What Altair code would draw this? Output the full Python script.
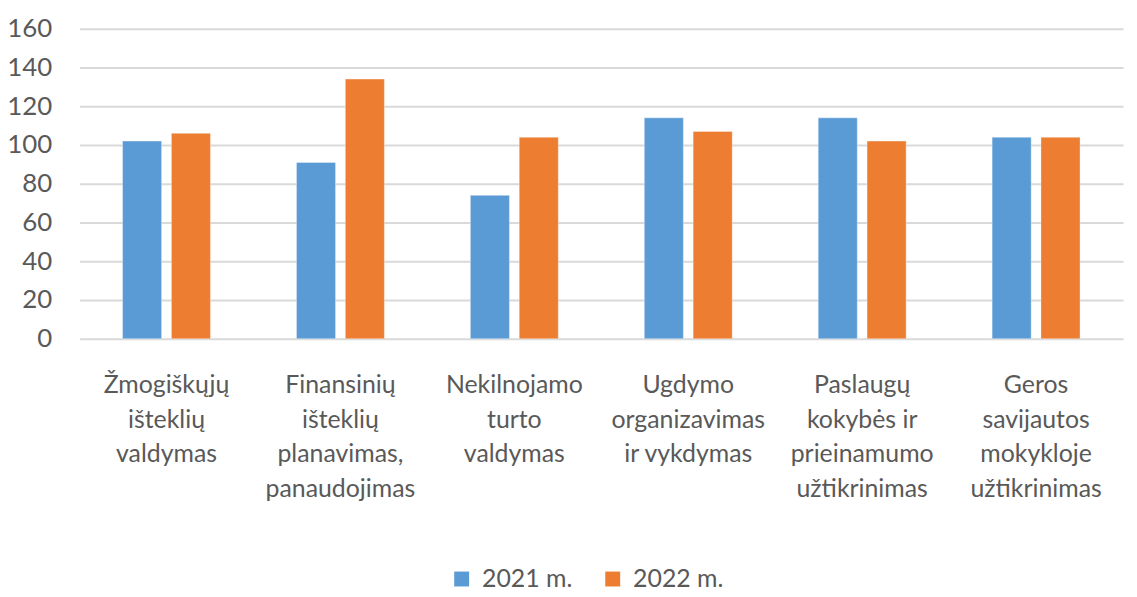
import altair as alt
import pandas as pd

categories = [
    "Žmogiškųjų|išteklių|valdymas",
    "Finansinių|išteklių|planavimas,|panaudojimas",
    "Nekilnojamo|turto|valdymas",
    "Ugdymo|organizavimas|ir vykdymas",
    "Paslaugų|kokybės ir|prieinamumo|užtikrinimas",
    "Geros|savijautos|mokykloje|užtikrinimas",
]
series = ["2021 m.", "2022 m."]
values_2021 = [102, 91, 74, 114, 114, 104]
values_2022 = [106, 134, 104, 107, 102, 104]
colors = ["#5B9BD5", "#ED7D31"]

rows = []
for c, a, b in zip(categories, values_2021, values_2022):
    rows.append({"cat": c, "series": series[0], "value": a})
    rows.append({"cat": c, "series": series[1], "value": b})
df = pd.DataFrame(rows)

FONT = "Lato"
TXT = "#595959"

chart = alt.Chart(df).mark_bar(stroke="white", strokeWidth=0.6, strokeOpacity=0.6).encode(
    x=alt.X("cat:N", sort=categories, title=None,
            scale=alt.Scale(paddingInner=0, paddingOuter=0),
            axis=alt.Axis(labelExpr="split(datum.label, '|')", labelAngle=0,
                          labelFontSize=25, labelColor=TXT, labelFont=FONT,
                          labelLineHeight=35, labelPadding=34, labelLimit=300,
                          ticks=False, domain=False, labelBaseline="top")),
    xOffset=alt.XOffset("series:N", sort=series,
                        scale=alt.Scale(paddingInner=0.2, paddingOuter=0.88)),
    y=alt.Y("value:Q", title=None,
            scale=alt.Scale(domain=[0, 160]),
            axis=alt.Axis(values=list(range(0, 161, 20)), labelFontSize=26,
                          labelColor=TXT, labelFont=FONT, labelPadding=28,
                          ticks=False, domain=False, gridColor="#d9d9d9",
                          gridWidth=2)),
    color=alt.Color("series:N", sort=series,
                    scale=alt.Scale(domain=series, range=colors),
                    legend=alt.Legend(title=None, orient="none", direction="horizontal",
                                      legendX=372, legendY=541,
                                      symbolType="square", symbolSize=225,
                                      symbolStrokeWidth=0, labelFontSize=25,
                                      labelColor=TXT, labelFont=FONT,
                                      labelOffset=8, columnPadding=28)),
).properties(
    width=1050, height=312,
    padding={"left": 72, "top": 19, "right": 6, "bottom": 256},
    autosize=alt.AutoSizeParams(type="none"),
).configure_view(stroke=None)

chart.save("out.html", embed_options={"renderer": "svg", "actions": False})
